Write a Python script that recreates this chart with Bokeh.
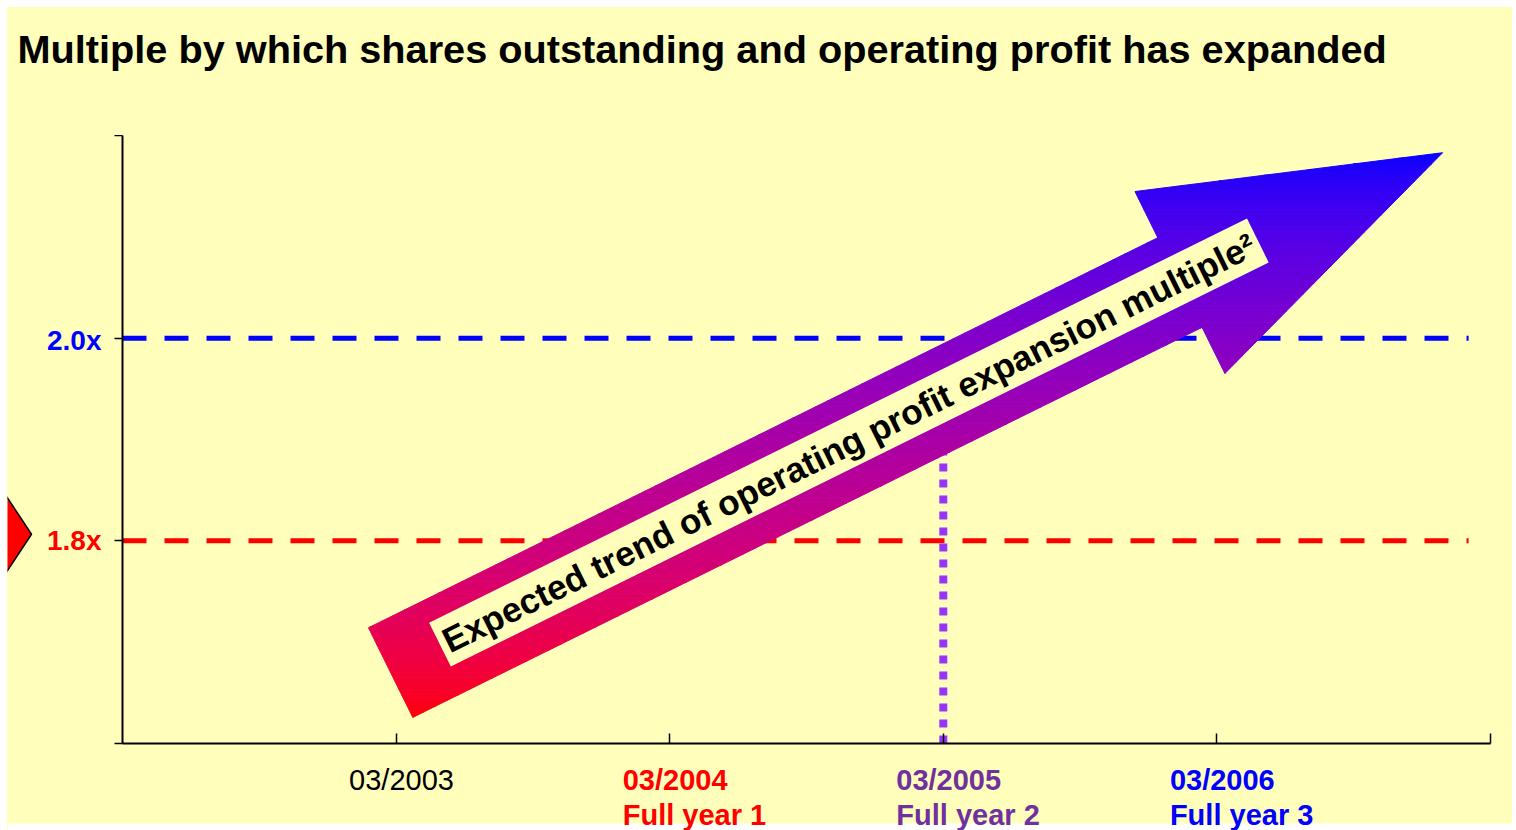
import math
import numpy as np
from bokeh.plotting import figure
from bokeh.layouts import column, row
from bokeh.models import Range1d, FixedTicker, Label
from bokeh.core.properties import value
from bokeh.embed import file_html
from bokeh.resources import INLINE

# ---------------- data ----------------
TITLE = "Multiple by which shares outstanding and operating profit has expanded"
CATEGORIES = ["03/2003", "03/2004", "03/2005", "03/2006"]
SUBLABELS = ["Full year 1", "Full year 2", "Full year 3"]
CATEGORY_X = [1, 2, 3, 4]
SUBLABEL_X = [2, 3, 4]
LEVELS = [1.8, 2.0]
LEVEL_LABELS = ["1.8x", "2.0x"]
MARKED_X = 3            # 03/2005 dotted marker
MARKED_TOP = 1.95
ARROW_TEXT = "Expected trend of operating profit expansion multiple\u00b2"
ARROW_FROM = (0.98, 1.67)     # tail centre (x, multiple)
ARROW_TO = (4.825, 2.183)     # tip (x, multiple)
LEVEL_END_X = 4.92

X_MIN, X_MAX = 0, 5
Y_MIN, Y_MAX = 1.6, 2.2
X_TICKS = [1, 2, 3, 4, 5]
Y_TICKS = [1.6, 1.8, 2.0, 2.2]

# ---------------- style ----------------
BG = "#FFFFBB"
RED = "#FF0000"
BLUE = "#0000FF"
PURPLE_TEXT = "#7030A0"
PURPLE_LINE = "#9933FF"
CAT_COLORS = ["#000000", RED, PURPLE_TEXT, BLUE]
CAT_STYLES = ["normal", "bold", "bold", "bold"]
SUB_COLORS = [RED, PURPLE_TEXT, BLUE]
LEVEL_COLORS = [RED, BLUE]
FONT = "Liberation Sans"

TOTAL_W = 1505
PAD_L, PAD_R = 115, 22          # canvas edge -> frame edge (px)
FRAME_W, FRAME_H = 1368, 608
TOP_H = 128
M_LEFT, M_BOTTOM = 20, 10       # main figure borders for the axes
BOT_H = 77
SX = FRAME_W / (X_MAX - X_MIN)
SY = FRAME_H / (Y_MAX - Y_MIN)

X_FULL = Range1d(X_MIN - PAD_L / SX, X_MAX + PAD_R / SX)


def bare(width, height, x_range, y_range):
    f = figure(width=width, height=height, x_range=x_range, y_range=y_range,
               output_backend="svg", toolbar_location=None,
               x_axis_location=None, y_axis_location=None,
               min_border=0, background_fill_color=BG, border_fill_color=BG,
               outline_line_color=None)
    f.grid.visible = False
    return f


# ---------------- title strip ----------------
top = bare(TOTAL_W, TOP_H, X_FULL, Range1d(Y_MAX, Y_MAX + TOP_H / SY))
top.text(x=[X_MIN - 105 / SX], y=[Y_MAX + 87 / SY], text=[TITLE],
         text_font=value(FONT), text_font_style="bold", text_font_size="39.7px",
         text_color="black", text_align="left", text_baseline="alphabetic")

# ---------------- main plot ----------------
main = figure(width=TOTAL_W - PAD_L + M_LEFT, height=FRAME_H + M_BOTTOM,
              x_range=Range1d(X_MIN, X_MAX), y_range=Range1d(Y_MIN, Y_MAX),
              output_backend="svg", toolbar_location=None,
              min_border_left=M_LEFT, min_border_right=PAD_R,
              min_border_top=0, min_border_bottom=M_BOTTOM,
              background_fill_color=BG, border_fill_color=BG,
              outline_line_color=None)
main.grid.visible = False

xa = main.xaxis[0]
xa.ticker = FixedTicker(ticks=X_TICKS)
xa.major_label_text_font_size = "0px"
xa.major_label_text_color = None
xa.major_label_standoff = 0
xa.major_tick_in = 10
xa.major_tick_out = 0
xa.minor_tick_line_color = None
xa.axis_line_width = 2
xa.major_tick_line_width = 1.5

ya = main.yaxis[0]
ya.ticker = FixedTicker(ticks=Y_TICKS)
ya.major_label_text_font_size = "0px"
ya.major_label_text_color = None
ya.major_label_standoff = 0
ya.major_tick_in = 0
ya.major_tick_out = 8
ya.minor_tick_line_color = None
ya.axis_line_width = 2
ya.major_tick_line_width = 1.5

main.segment(x0=[X_MIN] * len(LEVELS), y0=LEVELS, x1=[LEVEL_END_X] * len(LEVELS), y1=LEVELS,
             line_color=LEVEL_COLORS, line_width=5, line_dash="24 18")
main.segment(x0=[MARKED_X], y0=[Y_MIN], x1=[MARKED_X], y1=[MARKED_TOP],
             line_color=PURPLE_LINE, line_width=8, line_dash="8 8")


def arrow_parts(start, end, half_w, half_head, head_len):
    a = np.array([start[0] * SX, start[1] * SY])
    b = np.array([end[0] * SX, end[1] * SY])
    d = b - a
    u = d / np.hypot(*d)
    n = np.array([-u[1], u[0]])
    base = b - head_len * u
    shaft = [a + half_w * n, base + 1.0 * u + half_w * n, base + 1.0 * u - half_w * n, a - half_w * n]
    head = [base + half_head * n, b, base - half_head * n]
    conv = lambda pts: [(float(q[0]), float(q[1])) for q in pts]
    return [conv(shaft), conv(head)]


def clip(poly, yc, keep_above):
    out = []
    m = len(poly)
    for i in range(m):
        P, Q = poly[i], poly[(i + 1) % m]
        inP = P[1] >= yc if keep_above else P[1] <= yc
        inQ = Q[1] >= yc if keep_above else Q[1] <= yc
        if inP:
            out.append(P)
        if inP != inQ:
            t = (yc - P[1]) / (Q[1] - P[1])
            out.append((P[0] + t * (Q[0] - P[0]), yc))
    return out


parts = arrow_parts(ARROW_FROM, ARROW_TO, 50, 101.5, 293)
all_y = [q[1] for part in parts for q in part]
ylo, yhi = min(all_y), max(all_y)
N = 100
xs_list, ys_list, cols = [], [], []
for k in range(N):
    y0 = ylo + (yhi - ylo) * k / N
    y1 = ylo + (yhi - ylo) * (k + 1) / N
    t = (k + 0.5) / N
    col = "#%02x%02x%02x" % (int(round(255 * (1 - t) ** 0.6)), 0, int(round(255 * t ** 0.6)))
    for part in parts:
        piece = clip(clip(part, y0, True), y1, False)
        if len(piece) < 3:
            continue
        xs_list.append([q[0] / SX for q in piece])
        ys_list.append([q[1] / SY for q in piece])
        cols.append(col)

main.patches(xs=xs_list, ys=ys_list, fill_color=cols, line_color=cols, line_width=1)

ang = math.degrees(math.atan2((ARROW_TO[1] - ARROW_FROM[1]) * SY, (ARROW_TO[0] - ARROW_FROM[0]) * SX))
main.add_layout(Label(x=2.655, y=1.897, text=ARROW_TEXT, angle=ang, angle_units="deg",
                      text_align="center", text_baseline="middle",
                      text_font=FONT, text_font_style="bold", text_font_size="35px",
                      text_color="black", background_fill_color=BG, padding=5))

# ---------------- left label strip ----------------
left = bare(PAD_L - M_LEFT, FRAME_H + M_BOTTOM,
            Range1d(X_MIN - PAD_L / SX, X_MIN - M_LEFT / SX),
            Range1d(Y_MIN - M_BOTTOM / SY, Y_MAX))
hx, hy, hr, hh = X_MIN - 141 / SX, 1.8, 50, 38.5
left.patch(x=[hx + hr / SX, hx + hr / 2 / SX, hx - hr / 2 / SX, hx - hr / SX, hx - hr / 2 / SX, hx + hr / 2 / SX],
           y=[hy, hy + hh / SY, hy + hh / SY, hy, hy - hh / SY, hy - hh / SY],
           fill_color=RED, line_color="black", line_width=1.5)
left.text(x=[X_MIN - 21 / SX] * len(LEVELS), y=[v - 6 / SY for v in LEVELS], text=LEVEL_LABELS,
          text_font=value(FONT), text_font_style="bold", text_font_size="28px",
          text_color=LEVEL_COLORS, text_align="right", text_baseline="alphabetic")

# ---------------- bottom label strip ----------------
bottom = bare(TOTAL_W, BOT_H, X_FULL,
              Range1d(Y_MIN - (M_BOTTOM + BOT_H) / SY, Y_MIN - M_BOTTOM / SY))
bottom.quad(left=[X_FULL.start], right=[X_FULL.end],
            bottom=[Y_MIN - (M_BOTTOM + BOT_H) / SY], top=[Y_MIN - 80 / SY],
            fill_color="white", line_color=None)
for cx, cat, col, sty in zip(CATEGORY_X, CATEGORIES, CAT_COLORS, CAT_STYLES):
    bottom.text(x=[cx - 47 / SX], y=[Y_MIN - 36 / SY], text=[cat],
                text_font=value(FONT), text_font_style=sty, text_font_size="29px",
                text_color=col, text_align="left", text_baseline="alphabetic")
bottom.text(x=[sx - 47 / SX for sx in SUBLABEL_X], y=[Y_MIN - 71 / SY] * len(SUBLABELS), text=SUBLABELS,
            text_font=value(FONT), text_font_style="bold", text_font_size="29px",
            text_color=SUB_COLORS, text_align="left", text_baseline="alphabetic")

mid = row(left, main, spacing=0, styles={"background-color": BG})
layout = column(top, mid, bottom, spacing=0, margin=(7, 0, 0, 7), styles={"background-color": BG})
open("out.html", "w").write(file_html(layout, INLINE))
